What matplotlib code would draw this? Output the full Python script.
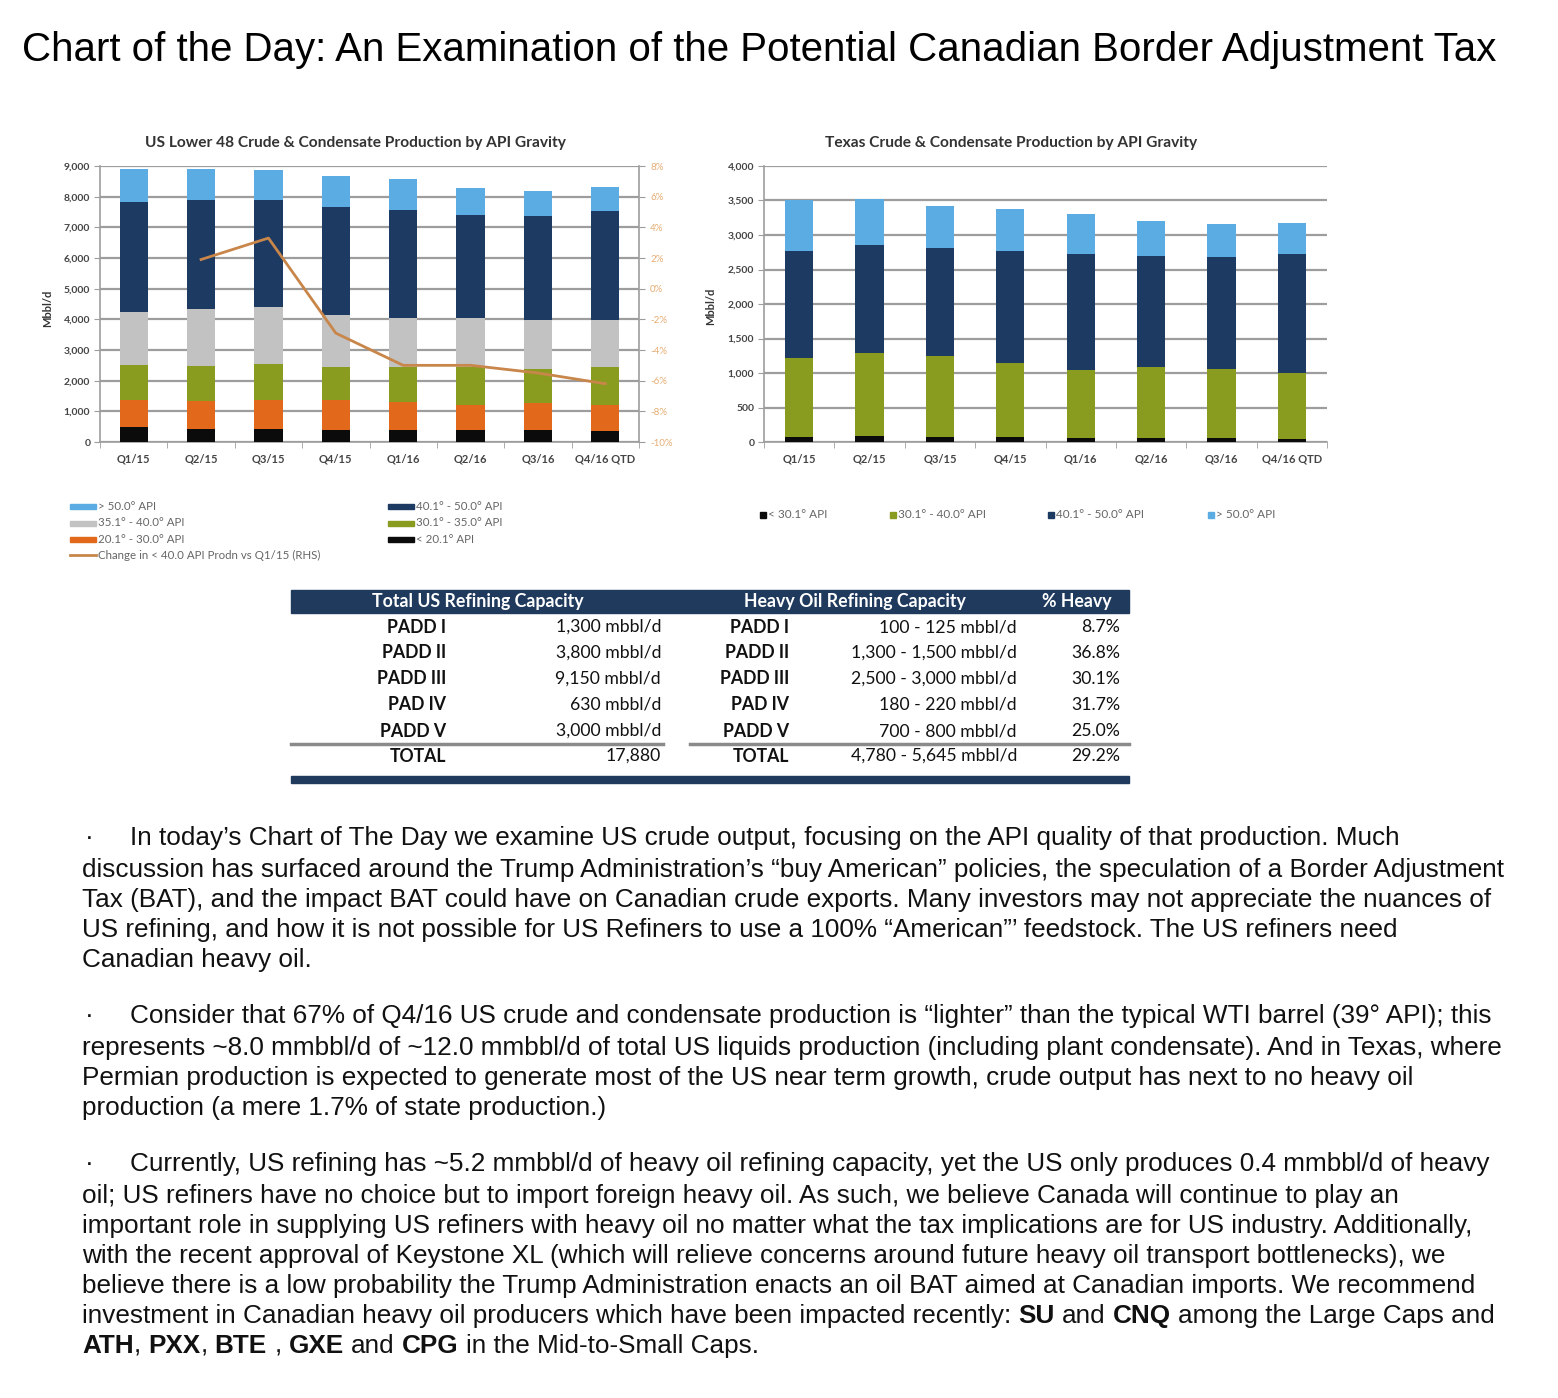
import matplotlib
matplotlib.use("Agg")
import matplotlib.pyplot as plt
import numpy as np
from matplotlib.patches import Rectangle
from matplotlib.lines import Line2D
from matplotlib.ticker import FuncFormatter

W, H = 1558, 1398
plt.rcParams['font.family'] = ['Lato', 'DejaVu Sans']

quarters = ["Q1/15", "Q2/15", "Q3/15", "Q4/15", "Q1/16", "Q2/16", "Q3/16", "Q4/16 QTD"]

# US Lower 48 production, Mbbl/d, segments from bottom to top
us_lt20 = [480, 430, 430, 400, 400, 400, 400, 350]
us_20_30 = [880, 900, 950, 960, 890, 820, 870, 870]
us_30_35 = [1160, 1160, 1160, 1100, 1150, 1220, 1110, 1220]
us_35_40 = [1735, 1840, 1870, 1685, 1600, 1600, 1605, 1545]
us_40_50 = [3555, 3560, 3475, 3525, 3540, 3360, 3380, 3545]
us_gt50 = [1090, 1010, 985, 1005, 1000, 885, 820, 785]
# change in < 40.0 API production vs Q1/15 (%), from Q2/15 on
us_chg = [1.9, 3.3, -2.9, -5.0, -5.0, -5.5, -6.2]

# Texas production, Mbbl/d, segments from bottom to top
tx_lt30 = [70, 90, 70, 70, 60, 65, 65, 50]
tx_30_40 = [1145, 1205, 1170, 1070, 985, 1020, 995, 955]
tx_40_50 = [1555, 1560, 1575, 1625, 1680, 1615, 1625, 1725]
tx_gt50 = [730, 670, 605, 610, 585, 500, 470, 445]

us_labels = ["< 20.1° API", "20.1° - 30.0° API", "30.1° - 35.0° API",
             "35.1° - 40.0° API", "40.1° - 50.0° API", "> 50.0° API"]
line_label = "Change in < 40.0 API Prodn vs Q1/15 (RHS)"
tx_labels = ["< 30.1° API", "30.1° - 40.0° API", "40.1° - 50.0° API", "> 50.0° API"]

# refining capacity table
padd = ["PADD I", "PADD II", "PADD III", "PAD IV", "PADD V"]
total_cap = ["1,300 mbbl/d", "3,800 mbbl/d", "9,150 mbbl/d", "630 mbbl/d", "3,000 mbbl/d"]
heavy_cap = ["100 - 125 mbbl/d", "1,300 - 1,500 mbbl/d", "2,500 - 3,000 mbbl/d",
             "180 - 220 mbbl/d", "700 - 800 mbbl/d"]
pct_heavy = ["8.7%", "36.8%", "30.1%", "31.7%", "25.0%"]
total_row = ["TOTAL", "17,880", "TOTAL", "4,780 - 5,645 mbbl/d", "29.2%"]
headers = ["Total US Refining Capacity", "Heavy Oil Refining Capacity", "% Heavy"]

c_black = '#0b0b0b'
c_orange = '#e2681c'
c_green = '#8a9c1f'
c_gray = '#c2c2c2'
c_navy = '#1c3a62'
c_lblue = '#5aace2'
c_line = '#c8864a'
c_grid = '#9d9d9d'
c_table = '#1f3a5d'

fig = plt.figure(figsize=(W / 100, H / 100), dpi=100)
fig.patch.set_facecolor('white')
renderer = fig.canvas.get_renderer()


def fx(x):
    return x / W


def fy(y):
    return 1 - y / H


def box(x0, y0, x1, y1):
    return [fx(x0), fy(y1), (x1 - x0) / W, (y1 - y0) / H]


def stacked(ax, series, colors, width):
    x = np.arange(len(quarters))
    bottom = np.zeros(len(quarters))
    for vals, c in zip(series, colors):
        ax.bar(x, vals, width, bottom=bottom, color=c, zorder=3, linewidth=0)
        bottom += np.array(vals)


def style(ax, ymax, step):
    ax.set_xlim(-0.5, len(quarters) - 0.5)
    ax.set_ylim(0, ymax)
    ax.set_yticks(np.arange(0, ymax + 1, step))
    ax.yaxis.set_major_formatter(FuncFormatter(lambda v, p: f"{v:,.0f}"))
    ax.grid(axis='y', color=c_grid, lw=1.6, zorder=0)
    ax.set_axisbelow(True)
    ax.set_xticks(np.arange(len(quarters)))
    ax.set_xticklabels(quarters)
    ax.set_xticks(np.arange(len(quarters) + 1) - 0.5, minor=True)
    ax.tick_params(axis='x', which='major', length=0, pad=8, labelsize=8, labelcolor='#444')
    ax.tick_params(axis='x', which='minor', length=4, color=c_grid)
    ax.tick_params(axis='y', length=4, color=c_grid, labelsize=7.5, labelcolor='#444', pad=3)
    ax.spines['top'].set_visible(False)
    ax.spines['right'].set_visible(False)
    for s in ['left', 'bottom']:
        ax.spines[s].set_color(c_grid)
        ax.spines[s].set_linewidth(1.2)
    for lab in ax.get_xticklabels() + ax.get_yticklabels():
        lab.set_fontweight('bold')


# title
title = "Chart of the Day: An Examination of the Potential Canadian Border Adjustment Tax"
t = fig.text(0, 0, title, fontsize=20, family='Liberation Sans')
tsize = 20 * 1470 / t.get_window_extent(renderer).width
t.remove()
fig.text(fx(22), fy(50), title, fontsize=tsize, family='Liberation Sans', va='center', ha='left')

# left chart
ax1 = fig.add_axes(box(100, 166, 639, 442))
stacked(ax1, [us_lt20, us_20_30, us_30_35, us_35_40, us_40_50, us_gt50],
        [c_black, c_orange, c_green, c_gray, c_navy, c_lblue], 0.42)
style(ax1, 9000, 1000)
ax1b = ax1.twinx()
ax1b.set_ylim(-10, 8)
ax1b.set_yticks(np.arange(-10, 9, 2))
ax1b.set_yticklabels([f"{v}%" for v in range(-10, 9, 2)])
ax1b.plot(np.arange(1, len(quarters)), us_chg, color=c_line, lw=2, zorder=5)
ax1b.tick_params(axis='y', length=4, color=c_grid, labelsize=7, labelcolor='#e6ad74', pad=4)
ax1b.spines['top'].set_visible(False)
ax1b.spines['left'].set_visible(False)
ax1b.spines['bottom'].set_visible(False)
ax1b.spines['right'].set_color(c_grid)
ax1b.spines['right'].set_linewidth(1.2)
fig.text(fx(355), fy(143), "US Lower 48 Crude & Condensate Production by API Gravity",
         fontsize=11.2, fontweight='bold', color='#333', ha='center', va='center')
fig.text(fx(48), fy(308), "Mbbl/d", fontsize=8, fontweight='bold', color='#333',
         rotation=90, ha='center', va='center')

# right chart
ax2 = fig.add_axes(box(764, 166, 1327, 442))
stacked(ax2, [tx_lt30, tx_30_40, tx_40_50, tx_gt50], [c_black, c_green, c_navy, c_lblue], 0.4)
style(ax2, 4000, 500)
fig.text(fx(1011), fy(143), "Texas Crude & Condensate Production by API Gravity",
         fontsize=11.2, fontweight='bold', color='#333', ha='center', va='center')
fig.text(fx(711), fy(306), "Mbbl/d", fontsize=8, fontweight='bold', color='#333',
         rotation=90, ha='center', va='center')

# left legend
leg_items = [(70, 507, c_lblue, us_labels[5]), (70, 523, c_gray, us_labels[3]),
             (70, 539, c_orange, us_labels[1]), (388, 507, c_navy, us_labels[4]),
             (388, 523, c_green, us_labels[2]), (388, 539, c_black, us_labels[0])]
for x, y, c, lab in leg_items:
    fig.patches.append(Rectangle((fx(x), fy(y + 2.5)), 26 / W, 5 / H, color=c,
                                 transform=fig.transFigure, figure=fig))
    fig.text(fx(x + 28), fy(y), lab, fontsize=8.3, color='#666', va='center')
fig.lines.append(Line2D([fx(70), fx(96)], [fy(555), fy(555)], color=c_line, lw=2,
                        transform=fig.transFigure, figure=fig))
fig.text(fx(98), fy(555), line_label, fontsize=8.3, color='#666', va='center')

# right legend
for x, c, lab in zip([760, 890, 1048, 1208], [c_black, c_green, c_navy, c_lblue], tx_labels):
    fig.patches.append(Rectangle((fx(x), fy(518)), 6 / W, 6 / H, color=c,
                                 transform=fig.transFigure, figure=fig))
    fig.text(fx(x + 8), fy(515), lab, fontsize=8.5, color='#666', va='center')

# table
fig.patches.append(Rectangle((fx(291), fy(613)), (1129 - 291) / W, 23 / H, color=c_table,
                             transform=fig.transFigure, figure=fig))
for x, h in zip([478, 855, 1077], headers):
    fig.text(fx(x), fy(601), h, fontsize=12.8, fontweight='bold', color='white',
             ha='center', va='center')
rows = list(zip(padd, total_cap, padd, heavy_cap, pct_heavy)) + [tuple(total_row)]
row_y = [627, 653, 679, 705, 731, 756]
col_x = [446, 661, 789, 1017, 1120]
col_bold = [True, False, True, False, False]
for y, row in zip(row_y, rows):
    for x, val, b in zip(col_x, row, col_bold):
        fig.text(fx(x), fy(y), val, fontsize=12.7, fontweight='bold' if b else 'normal',
                 color='#111', ha='right', va='center')
for x0, x1 in [(291, 663), (690, 1129)]:
    fig.lines.append(Line2D([fx(x0), fx(x1)], [fy(744), fy(744)], color='#8a8a8a', lw=2.5,
                            transform=fig.transFigure, figure=fig))
fig.patches.append(Rectangle((fx(291), fy(783)), (1129 - 291) / W, 7 / H, color=c_table,
                             transform=fig.transFigure, figure=fig))

# paragraphs
paragraphs = [
    [(838, [("In today’s Chart of The Day we examine US crude output, focusing on the API quality of that production. Much", False)]),
     (870, [("discussion has surfaced around the Trump Administration’s “buy American” policies, the speculation of a Border Adjustment", False)]),
     (900, [("Tax (BAT), and the impact BAT could have on Canadian crude exports. Many investors may not appreciate the nuances of", False)]),
     (930, [("US refining, and how it is not possible for US Refiners to use a 100% “American”’ feedstock. The US refiners need", False)]),
     (960, [("Canadian heavy oil.", False)])],
    [(1016, [("Consider that 67% of Q4/16 US crude and condensate production is “lighter” than the typical WTI barrel (39° API); this", False)]),
     (1048, [("represents ~8.0 mmbbl/d of ~12.0 mmbbl/d of total US liquids production (including plant condensate). And in Texas, where", False)]),
     (1078, [("Permian production is expected to generate most of the US near term growth, crude output has next to no heavy oil", False)]),
     (1108, [("production (a mere 1.7% of state production.)", False)])],
    [(1164, [("Currently, US refining has ~5.2 mmbbl/d of heavy oil refining capacity, yet the US only produces 0.4 mmbbl/d of heavy", False)]),
     (1196, [("oil; US refiners have no choice but to import foreign heavy oil. As such, we believe Canada will continue to play an", False)]),
     (1226, [("important role in supplying US refiners with heavy oil no matter what the tax implications are for US industry. Additionally,", False)]),
     (1256, [("with the recent approval of Keystone XL (which will relieve concerns around future heavy oil transport bottlenecks), we", False)]),
     (1286, [("believe there is a low probability the Trump Administration enacts an oil BAT aimed at Canadian imports. We recommend", False)]),
     (1316, [("investment in Canadian heavy oil producers which have been impacted recently: ", False), ("SU", True),
             (" and ", False), ("CNQ", True), (" among the Large Caps and", False)]),
     (1346, [("ATH", True), (", ", False), ("PXX", True), (", ", False), ("BTE", True), (" , ", False),
             ("GXE", True), (" and ", False), ("CPG", True), (" in the Mid-to-Small Caps.", False)])],
]

calib = paragraphs[0][1][1][0][0]
t = fig.text(0, 0, calib, fontsize=20, family='Liberation Sans')
psize = 20 * 1418 / t.get_window_extent(renderer).width
t.remove()


def width_of(s, kw):
    tt = fig.text(0, 0, s, **kw)
    w = tt.get_window_extent(renderer).width
    tt.remove()
    return w


def rich_line(x, y, parts):
    for s, bold in parts:
        kw = dict(fontsize=psize, family='Liberation Sans',
                  fontweight='bold' if bold else 'normal')
        sp = width_of("a a", kw) - width_of("aa", kw)
        lead = len(s) - len(s.lstrip(' '))
        trail = len(s) - len(s.rstrip(' '))
        x += lead * sp
        tt = fig.text(fx(x), fy(y), s.strip(' '), va='center', ha='left', color='#111', **kw)
        x += tt.get_window_extent(renderer).width + trail * sp


for para in paragraphs:
    for i, (y, parts) in enumerate(para):
        if i == 0:
            fig.text(fx(85), fy(y), "·", fontsize=psize, family='Liberation Sans',
                     va='center', ha='left', color='#111')
            rich_line(130, y, parts)
        else:
            rich_line(82, y, parts)

fig.savefig("out.png", dpi=100, facecolor='white')
